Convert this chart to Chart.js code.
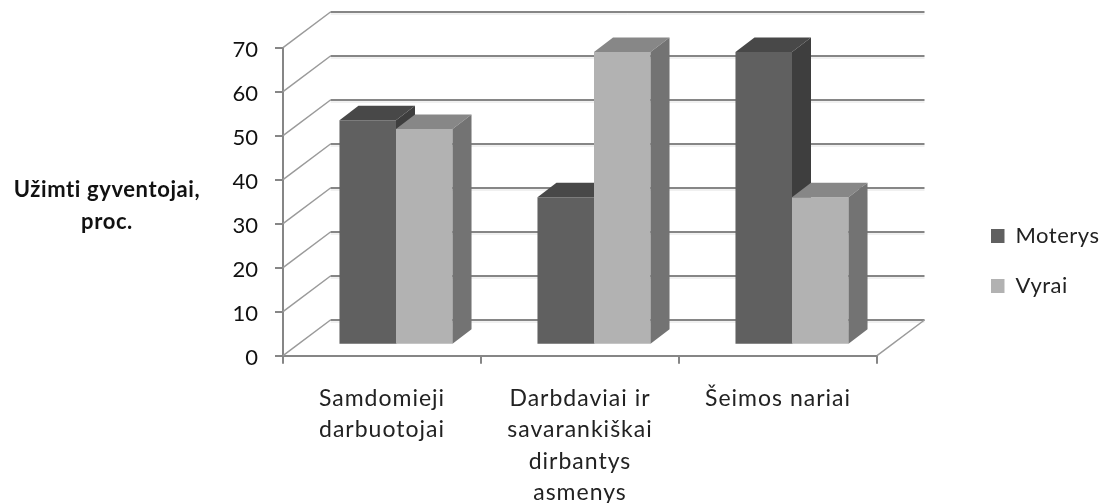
<!DOCTYPE html>
<html><head><meta charset="utf-8">
<style>html,body{margin:0;padding:0;background:#fff}canvas{display:block}</style>
<script src="https://cdn.jsdelivr.net/npm/chart.js@4"></script>
</head><body><canvas id="c" width="1105" height="503"></canvas>
<script>
const categories = [["Samdomieji","darbuotojai"],["Darbdaviai ir","savarankiškai","dirbantys","asmenys"],["Šeimos nariai"]];
const moterys = [51, 33.5, 66.5];
const vyrai = [49, 66.5, 33.5];
const seriesNames = ["Moterys","Vyrai"];
const axisTitleLines = ["Užimti gyventojai,","proc."];
const yTicks = [0,10,20,30,40,50,60,70];

const FONT = "Lato, 'Open Sans', sans-serif";
const AXIS = "#868686";
const WALL = {dx:47.5, dy:-35.7};
const BAR = {ox:14, oy:-11, dx:19, dy:-14.5};
const FACES = [{front:"#606060", top:"#484848", side:"#3e3e3e"},{front:"#b2b2b2", top:"#878787", side:"#737373"}];

function drawFaces(chart, index){
  const ctx = chart.ctx, f = FACES[index];
  chart.getDatasetMeta(index).data.forEach(b=>{
    const l=b.x-b.width/2, r=b.x+b.width/2, t=b.y, base=b.base;
    ctx.fillStyle=f.top;
    ctx.beginPath(); ctx.moveTo(l,t); ctx.lineTo(l+BAR.dx,t+BAR.dy); ctx.lineTo(r+BAR.dx,t+BAR.dy); ctx.lineTo(r,t); ctx.closePath(); ctx.fill();
    ctx.fillStyle=f.side;
    ctx.beginPath(); ctx.moveTo(r,t); ctx.lineTo(r+BAR.dx,t+BAR.dy); ctx.lineTo(r+BAR.dx,base+BAR.dy); ctx.lineTo(r,base); ctx.closePath(); ctx.fill();
  });
}
function spaced(owner, method, ctx, spacing, dy){
  if(owner["_wrapped_"+method]) return;
  owner["_wrapped_"+method] = true;
  const orig = owner[method];
  owner[method] = function(...a){
    ctx.save(); ctx.letterSpacing = spacing; ctx.translate(0,dy);
    orig.apply(this,a);
    ctx.restore();
  };
}

const plugin3d = {
  id:"plugin3d",
  afterLayout(chart){
    const lg = chart.legend; if(!lg) return;
    const h = lg.bottom - lg.top;
    lg.left = 963; lg.right = 1105; lg.top = 197; lg.bottom = lg.top + h;
    lg.adjustHitBoxes();
    spaced(lg,"draw",chart.ctx,"0.5px",0);
    spaced(chart.scales.x,"drawLabels",chart.ctx,"1px",0);
    spaced(chart.scales.y,"drawLabels",chart.ctx,"0px",2);
  },
  beforeDatasetsDraw(chart){
    const {ctx, chartArea:a, scales:{y}} = chart;
    ctx.save();
    yTicks.forEach(v=>{
      const py = y.getPixelForValue(v);
      ctx.strokeStyle = "#9a9a9a"; ctx.lineWidth = 1.5;
      ctx.beginPath(); ctx.moveTo(a.left,py); ctx.lineTo(a.left+WALL.dx,py+WALL.dy); ctx.stroke();
      ctx.strokeStyle = "#e2e2e2"; ctx.lineWidth = 1;
      ctx.beginPath(); ctx.moveTo(a.left+WALL.dx,py+WALL.dy+2); ctx.lineTo(a.right+WALL.dx,py+WALL.dy+2); ctx.stroke();
      ctx.strokeStyle = AXIS; ctx.lineWidth = 2;
      ctx.beginPath(); ctx.moveTo(a.left+WALL.dx,py+WALL.dy); ctx.lineTo(a.right+WALL.dx,py+WALL.dy); ctx.stroke();
    });
    const p0 = y.getPixelForValue(0);
    ctx.strokeStyle = "#9a9a9a"; ctx.lineWidth = 1.5;
    ctx.beginPath(); ctx.moveTo(a.right,p0); ctx.lineTo(a.right+WALL.dx,p0+WALL.dy); ctx.stroke();
    ctx.fillStyle = "#111"; ctx.font = "bold 22px "+FONT; ctx.textAlign = "center"; ctx.textBaseline = "middle";
    ctx.letterSpacing = "0.6px";
    axisTitleLines.forEach((t,i)=>ctx.fillText(t,107,190+i*32));
    ctx.restore();
  },
  beforeDatasetDraw(chart,args){
    chart.ctx.save();
    chart.ctx.translate(BAR.ox,BAR.oy);
    // Vyrai is painted first: the Moterys side and top must lie beneath its front face
    if(args.index===1) drawFaces(chart,0);
  },
  afterDatasetDraw(chart,args){
    if(args.index===1) drawFaces(chart,1);
    chart.ctx.restore();
  }
};

new Chart(document.getElementById("c"),{
  type:"bar",
  data:{labels:categories,datasets:[
    {label:seriesNames[0],data:moterys,backgroundColor:FACES[0].front,categoryPercentage:0.571,barPercentage:1},
    {label:seriesNames[1],data:vyrai,backgroundColor:FACES[1].front,categoryPercentage:0.571,barPercentage:1}
  ]},
  plugins:[plugin3d],
  options:{
    responsive:false,animation:false,
    layout:{padding:{left:0,top:47.7,right:228,bottom:0}},
    plugins:{
      tooltip:{enabled:false},
      legend:{position:"chartArea",align:"start",labels:{boxWidth:13.5,boxHeight:14,padding:28,color:"#222",font:{family:FONT,size:22}}}
    },
    scales:{
      x:{
        afterFit(s){s.height=147.3;},
        border:{color:AXIS,width:2},
        grid:{drawOnChartArea:false,color:AXIS,lineWidth:2,tickLength:8},
        ticks:{maxRotation:0,autoSkip:false,padding:19,color:"#222",font:{family:FONT,size:23,lineHeight:1.37}}
      },
      y:{
        min:0,max:70,
        afterFit(s){s.width=283;},
        border:{color:AXIS,width:2},
        grid:{drawOnChartArea:false,color:AXIS,lineWidth:2,tickLength:8},
        afterBuildTicks(s){s.ticks=yTicks.map(v=>({value:v}));},
        ticks:{padding:17,color:"#111",font:{family:FONT,size:22}}
      }
    }
  }
});
</script></body></html>
